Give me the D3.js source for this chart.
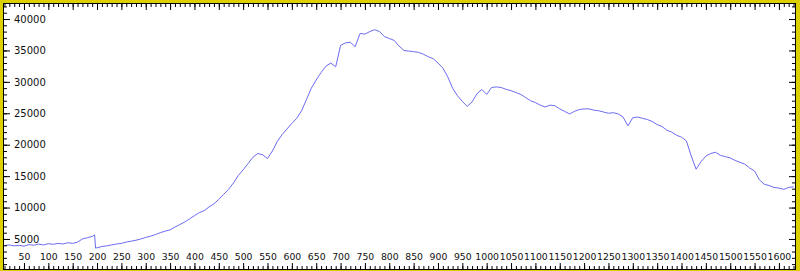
<!DOCTYPE html>
<html>
<head>
<meta charset="utf-8">
<script src="https://cdn.jsdelivr.net/npm/d3@7"></script>
<style>
  html, body { margin: 0; padding: 0; background: #fff; }
  svg { display: block; }
  .axis text { font-family: "DejaVu Sans", sans-serif; font-size: 10px; fill: #111; }
  .axis.xlab text { font-size: 9.3px; }
  .axis line { stroke: #000; }
</style>
</head>
<body>
<div id="chart"></div>
<script>
// pixel position (wavelength-ish units) and counts
const positions = [
  10, 20, 30, 40, 50, 60, 70, 80, 90, 100, 110, 120, 130, 140, 150, 160, 170, 180, 190, 195,
  197, 200, 210, 220, 230, 240, 250, 260, 270, 280, 290, 300, 310, 320, 330, 340, 350, 360,
  370, 380, 390, 400, 410, 420, 430, 440, 450, 460, 470, 480, 490, 500, 510, 520, 530, 540,
  550, 560, 570, 580, 590, 600, 610, 620, 630, 640, 650, 660, 670, 680, 690, 700, 710, 720,
  730, 740, 750, 760, 770, 780, 790, 800, 810, 820, 830, 840, 850, 860, 870, 880, 890, 900,
  910, 920, 930, 940, 950, 960, 970, 980, 990, 1000, 1010, 1020, 1030, 1040, 1050, 1060,
  1070, 1080, 1090, 1100, 1110, 1120, 1130, 1140, 1150, 1160, 1170, 1180, 1190, 1200, 1210,
  1220, 1230, 1240, 1250, 1260, 1270, 1280, 1290, 1300, 1310, 1320, 1330, 1340, 1350, 1360,
  1370, 1380, 1390, 1400, 1410, 1420, 1430, 1440, 1450, 1460, 1470, 1480, 1490, 1500, 1510,
  1520, 1530, 1540, 1550, 1560, 1570, 1580, 1590, 1600, 1610, 1620, 1630
];
const counts = [
  3950, 4050, 3900, 4000, 3850, 4100, 4000, 4200, 4050, 4250, 4150, 4300, 4200, 4400, 4300, 4500, 5000, 5200, 5400, 5650,
  3550, 3600, 3800, 3900, 4050, 4200, 4300, 4500, 4650, 4800, 5000, 5250, 5450, 5700, 6000, 6250, 6450, 6900,
  7300, 7700, 8200, 8700, 9200, 9500, 10100, 10600, 11300, 12100, 12900, 13900, 15100, 16000, 17000, 18000, 18600, 18400,
  17800, 19000, 20500, 21600, 22500, 23400, 24200, 25400, 27200, 29000, 30300, 31500, 32500, 33000, 32400, 35800, 36200, 36300,
  35600, 37700, 37600, 38000, 38300, 38000, 37200, 36900, 36600, 35700, 35000, 34900, 34800, 34700, 34400, 34000, 33700, 33000,
  32200, 30800, 29000, 27800, 26900, 26100, 26800, 28100, 28800, 28000, 29100, 29200, 29100, 28800, 28600, 28300,
  28000, 27500, 27000, 26700, 26300, 26000, 26300, 26200, 25700, 25300, 24900, 25300, 25600, 25700, 25700,
  25500, 25400, 25200, 25000, 25100, 24900, 24400, 23000, 24300, 24400, 24200, 24000, 23700, 23200, 22900,
  22300, 22000, 21500, 21200, 20600, 18200, 16100, 17300, 18200, 18600, 18800, 18300, 18100, 17900, 17500,
  17200, 16900, 16300, 15800, 14400, 13700, 13500, 13200, 13100, 12900, 13200, 13300
];
const xTickLabels = [50, 100, 150, 200, 250, 300, 350, 400, 450, 500, 550, 600, 650, 700, 750, 800,
  850, 900, 950, 1000, 1050, 1100, 1150, 1200, 1250, 1300, 1350, 1400, 1450, 1500, 1550, 1600];
const yTickLabels = [5000, 10000, 15000, 20000, 25000, 30000, 35000, 40000];

const W = 800, H = 271;
const box = { left: 4, right: 795, top: 4, bottom: 269 };

const svg = d3.select("#chart").append("svg")
  .attr("width", W)
  .attr("height", H);

// yellow surround and white plot
svg.append("rect").attr("width", W).attr("height", H).attr("fill", "#ddd000");
svg.append("rect")
  .attr("x", 3.5).attr("y", 3.5)
  .attr("width", box.right - 3).attr("height", box.bottom - 3)
  .attr("fill", "#fff").attr("stroke", "#000");

const x = d3.scaleLinear().domain([9, 1633]).range([box.left, box.right]);
const y = d3.scaleLinear().domain([0, 42390]).range([270.4, box.top]);

svg.append("clipPath").attr("id", "plot")
  .append("rect").attr("x", box.left).attr("y", box.top)
  .attr("width", box.right - box.left).attr("height", box.bottom - box.top);

const line = d3.line()
  .x((d, i) => x(positions[i]))
  .y(d => y(d));

svg.append("path")
  .datum(counts)
  .attr("clip-path", "url(#plot)")
  .attr("fill", "none")
  .attr("stroke", "#6c6cf2")
  .attr("stroke-width", 1)
  .attr("d", line);

const xMinor = d3.range(10, 1633, 10);
const yMinor = d3.range(1000, 42390, 1000);
const noDomain = g => g.select(".domain").remove();

// bottom
svg.append("g").attr("class", "axis").attr("transform", `translate(0,${box.bottom})`)
  .call(d3.axisTop(x).tickValues(xMinor).tickSize(3).tickFormat(""))
  .call(noDomain);
svg.append("g").attr("class", "axis xlab").attr("transform", `translate(0,${box.bottom})`)
  .call(d3.axisTop(x).tickValues(xTickLabels).tickSize(6).tickPadding(3).tickFormat(d3.format("d")))
  .call(noDomain);
// top
svg.append("g").attr("class", "axis").attr("transform", `translate(0,${box.top})`)
  .call(d3.axisBottom(x).tickValues(xMinor).tickSize(3).tickFormat(""))
  .call(noDomain);
svg.append("g").attr("class", "axis").attr("transform", `translate(0,${box.top})`)
  .call(d3.axisBottom(x).tickValues(xTickLabels).tickSize(6).tickFormat(""))
  .call(noDomain);
// left
svg.append("g").attr("class", "axis").attr("transform", `translate(${box.left},0)`)
  .call(d3.axisRight(y).tickValues(yMinor).tickSize(3).tickFormat(""))
  .call(noDomain);
svg.append("g").attr("class", "axis").attr("transform", `translate(${box.left},0)`)
  .call(d3.axisRight(y).tickValues(yTickLabels).tickSize(6).tickPadding(4).tickFormat(d3.format("d")))
  .call(noDomain);
// right
svg.append("g").attr("class", "axis").attr("transform", `translate(${box.right},0)`)
  .call(d3.axisLeft(y).tickValues(yMinor).tickSize(3).tickFormat(""))
  .call(noDomain);
svg.append("g").attr("class", "axis").attr("transform", `translate(${box.right},0)`)
  .call(d3.axisLeft(y).tickValues(yTickLabels).tickSize(6).tickFormat(""))
  .call(noDomain);
</script>
</body>
</html>
